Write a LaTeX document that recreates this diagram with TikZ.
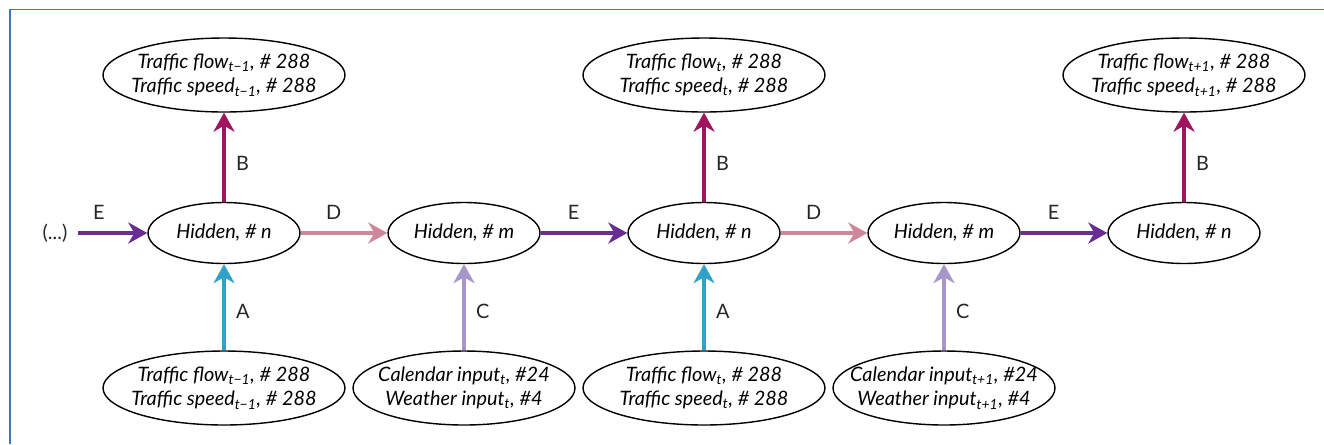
\documentclass[tikz,border=0pt]{standalone}
\usepackage{fontspec}
\setmainfont{Lato}
\usetikzlibrary{shapes.geometric,arrows.meta}

\definecolor{colA}{HTML}{2FA3C7}
\definecolor{colB}{HTML}{A0155F}
\definecolor{colC}{HTML}{A796CB}
\definecolor{colD}{HTML}{D0879C}
\definecolor{colE}{HTML}{6A2D91}
\definecolor{framecol}{HTML}{3D78C0}

\tikzset{
  hid/.style={draw, ellipse, line width=0.8pt, inner sep=0pt,
    minimum width=3.04cm, minimum height=1.22cm, font=\itshape},
  dat/.style={draw, ellipse, line width=0.8pt, inner xsep=-0.45cm, inner ysep=0pt,
    minimum width=4.84cm, minimum height=1.48cm, align=center, font=\itshape},
  flow/.style={-{Stealth[length=0.38cm,width=0.42cm,inset=0.12cm]}, line width=2.2pt},
  lbl/.style={font=\upshape, text=black!85},
}

\begin{document}
\fontsize{11.3}{13.8}\selectfont
\begin{tikzpicture}[x=0.02cm,y=-0.02cm]
    \useasboundingbox (0,0) rectangle (1324,444);
    \draw[framecol,line width=1.1pt] (10,444) -- (10,9.5) -- (1324,9.5);

    % hidden layers
    \node[hid] (h1) at (224,233) {Hidden, \# n};
    \node[hid] (m1) at (464,233) {Hidden, \# m};
    \node[hid] (h2) at (704,233) {Hidden, \# n};
    \node[hid] (m2) at (944,233) {Hidden, \# m};
    \node[hid] (h3) at (1184,233) {Hidden, \# n};
    \node[inner xsep=6pt,text=black!85] (prev) at (55,233) {(...)};

    % outputs
    \node[dat] (o1) at (224,75) {Traffic flow\textsubscript{t−1}, \# 288\\Traffic speed\textsubscript{t−1}, \# 288};
    \node[dat] (o2) at (704,75) {Traffic flow\textsubscript{t}, \# 288\\Traffic speed\textsubscript{t}, \# 288};
    \node[dat] (o3) at (1184,75) {Traffic flow\textsubscript{t+1}, \# 288\\Traffic speed\textsubscript{t+1}, \# 288};

    % inputs
    \node[dat] (i1) at (224,388) {Traffic flow\textsubscript{t−1}, \# 288\\Traffic speed\textsubscript{t−1}, \# 288};
    \node[dat,minimum width=4.44cm] (c1) at (464,388) {Calendar input\textsubscript{t}, \#24\\Weather input\textsubscript{t}, \#4};
    \node[dat] (i2) at (704,388) {Traffic flow\textsubscript{t}, \# 288\\Traffic speed\textsubscript{t}, \# 288};
    \node[dat,minimum width=4.44cm] (c2) at (944,388) {Calendar input\textsubscript{t+1}, \#24\\Weather input\textsubscript{t+1}, \#4};

    % horizontal links
    \draw[flow,colE] (prev) -- (h1) node[lbl,pos=0.3,above=3pt] {E};
    \draw[flow,colD] (h1) -- (m1) node[lbl,pos=0.38,above=3pt] {D};
    \draw[flow,colE] (m1) -- (h2) node[lbl,pos=0.38,above=3pt] {E};
    \draw[flow,colD] (h2) -- (m2) node[lbl,pos=0.38,above=3pt] {D};
    \draw[flow,colE] (m2) -- (h3) node[lbl,pos=0.38,above=3pt] {E};

    % vertical links
    \draw[flow,colB] (h1) -- (o1) node[lbl,pos=0.43,right=2pt] {B};
    \draw[flow,colB] (h2) -- (o2) node[lbl,pos=0.43,right=2pt] {B};
    \draw[flow,colB] (h3) -- (o3) node[lbl,pos=0.43,right=2pt] {B};
    \draw[flow,colA] (i1) -- (h1) node[lbl,pos=0.45,right=2pt] {A};
    \draw[flow,colC] (c1) -- (m1) node[lbl,pos=0.45,right=2pt] {C};
    \draw[flow,colA] (i2) -- (h2) node[lbl,pos=0.45,right=2pt] {A};
    \draw[flow,colC] (c2) -- (m2) node[lbl,pos=0.45,right=2pt] {C};
\end{tikzpicture}
\end{document}
